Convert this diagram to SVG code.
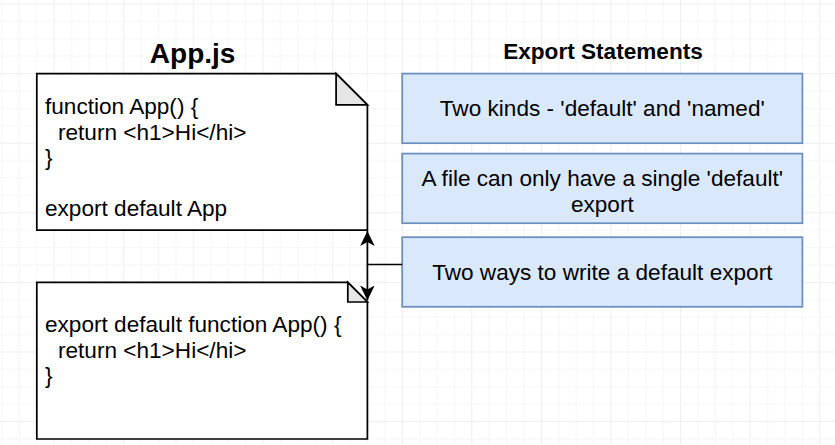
<svg xmlns="http://www.w3.org/2000/svg" width="835" height="445" viewBox="0 0 835 445">
<defs>
<pattern id="grid" patternUnits="userSpaceOnUse" x="53.7" y="3.5" width="69.6" height="69.6">
<rect x="0" y="0" width="1" height="69.6" fill="#eeeeee"/>
<rect x="17.4" y="0" width="1" height="69.6" fill="#f6f6f6"/>
<rect x="34.8" y="0" width="1" height="69.6" fill="#f6f6f6"/>
<rect x="52.2" y="0" width="1" height="69.6" fill="#f6f6f6"/>
<rect x="0" y="0" width="69.6" height="1" fill="#eeeeee"/>
<rect x="0" y="17.4" width="69.6" height="1" fill="#f6f6f6"/>
<rect x="0" y="34.8" width="69.6" height="1" fill="#f6f6f6"/>
<rect x="0" y="52.2" width="69.6" height="1" fill="#f6f6f6"/>
</pattern>
<marker id="arrow" viewBox="0 0 16 16" refX="15" refY="8" markerWidth="16" markerHeight="16" markerUnits="userSpaceOnUse" orient="auto">
<path d="M15,8 L0,0.7 L4,8 L0,15.3 Z" fill="#000"/>
</marker>
<style>
.doc{fill:#fff;stroke:#000;stroke-width:1.74;stroke-linejoin:miter}
.fold{fill:#e6e6e6;stroke:#000;stroke-width:1.74;stroke-linejoin:miter}
.box{fill:#dae8fc;stroke:#6c8ebf;stroke-width:1.74}
.t{font-family:"Liberation Sans",Arial,Helvetica,sans-serif;font-size:22.6px;fill:#000}
.c{text-anchor:middle}
.b{font-weight:bold}
.edge{fill:none;stroke:#000;stroke-width:1.74}
</style>
</defs>
<rect width="835" height="445" fill="#fff"/>
<rect width="835" height="445" fill="url(#grid)"/>

<g id="title-appjs"><text class="t b c" x="192.6" y="63" style="font-size:28px">App.js</text></g>
<g id="title-export"><text class="t b c" x="603" y="58.5">Export Statements</text></g>

<g id="doc1">
<path class="doc" d="M36.8,73.6 L336.1,73.6 L367.4,104.9 L367.4,230.2 L36.8,230.2 Z"/>
<path class="fold" d="M336.1,73.6 L336.1,104.9 L367.4,104.9 Z"/>
<text class="t" x="45" y="114">function App() {</text>
<text class="t" x="58" y="140">return &lt;h1&gt;Hi&lt;/hi&gt;</text>
<text class="t" x="45" y="165">}</text>
<text class="t" x="45" y="215.5">export default App</text>
</g>

<g id="doc2">
<path class="doc" d="M36.8,282.4 L347.8,282.4 L367.4,302 L367.4,439 L36.8,439 Z"/>
<path class="fold" d="M347.8,282.4 L347.8,302 L367.4,302 Z"/>
<text class="t" x="45" y="331.5">export default function App() {</text>
<text class="t" x="58" y="357.5">return &lt;h1&gt;Hi&lt;/hi&gt;</text>
<text class="t" x="45" y="383">}</text>
</g>

<g id="box1">
<rect class="box" x="402.2" y="73.6" width="400.2" height="69.6"/>
<text class="t c" x="602.3" y="116">Two kinds - 'default' and 'named'</text>
</g>
<g id="box2">
<rect class="box" x="402.2" y="153.6" width="400.2" height="69.6"/>
<text class="t c" x="602.3" y="186">A file can only have a single 'default'</text>
<text class="t c" x="602.3" y="212">export</text>
</g>
<g id="box3">
<rect class="box" x="402.2" y="237.2" width="400.2" height="69.6"/>
<text class="t c" x="602.3" y="280">Two ways to write a default export</text>
</g>

<g id="connectors">
<path class="edge" d="M402.2,264.5 L367.4,264.5 L367.4,231" marker-end="url(#arrow)"/>
<path class="edge" d="M367.4,264.5 L367.4,300.5" marker-end="url(#arrow)"/>
</g>
</svg>
